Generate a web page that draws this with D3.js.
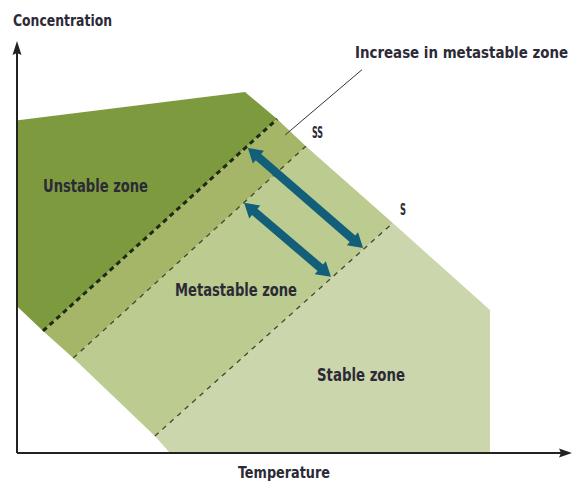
<!DOCTYPE html>
<html><head><meta charset="utf-8">
<script src="https://cdn.jsdelivr.net/npm/d3@7"></script>
<style>
html,body{margin:0;padding:0;background:#fff;}
svg{display:block;}
text{font-family:"Liberation Sans Narrow","DejaVu Sans Condensed","Open Sans",sans-serif;fill:#2b2a36;}
</style></head>
<body>
<script>
// Schematic solubility diagram, coordinates in abstract units (Temperature 0-100, Concentration 0-100)
const unstableZone   = [[0,92.2],[48.1,100],[54.9,92.5],[5.3,33.8],[0,40.4]];
const increaseZone   = [[5.3,33.8],[54.9,92.5],[61.0,85.0],[11.7,26.3]];
const metastableZone = [[11.7,26.3],[61.0,85.0],[79.4,63.7],[29.0,4.7]];
const stableZone     = [[29.0,4.7],[79.4,63.7],[100,39.6],[100,0],[32.2,0],[29.0,4.7]];
const ssOriginal     = [[5.3,33.8],[54.9,92.5]];   // thick dashed supersolubility curve
const ssNew          = [[11.7,26.3],[61.0,85.0]];  // thin dashed new supersolubility curve
const sCurve         = [[29.0,4.7],[79.4,63.7]];   // solubility curve
const arrows         = [[[48.7,84.5],[73.1,56.8]],[[47.9,69.3],[66.3,48.8]]];
const leader         = [[72.9,106.2],[56.6,88.1]];
const zoneLabels     = ["Unstable zone","Metastable zone","Stable zone"];
const curveLabels    = ["SS","S"];
const axisLabels     = ["Temperature","Concentration"];
const noteLabel      = "Increase in metastable zone";

const W=576,H=482;
const x=d3.scaleLinear().domain([0,100]).range([18,490]);
const y=d3.scaleLinear().domain([0,100]).range([453,92]);
const svg=d3.select("body").append("svg").attr("width",W).attr("height",H);
const line=d3.line().x(d=>x(d[0])).y(d=>y(d[1]));

const zones=[[stableZone,"#cbd6ad"],[metastableZone,"#bccb8f"],[increaseZone,"#a5b668"],[unstableZone,"#7e9a3e"]];
zones.forEach(([pts,c])=>svg.append("path").attr("d",line(pts)+"Z").attr("fill",c));

svg.append("path").attr("d",line(ssOriginal)).attr("stroke","#1e2a14").attr("stroke-width",3).attr("stroke-dasharray","5,4").attr("fill","none");
svg.append("path").attr("d",line(ssNew)).attr("stroke","#3d4a2a").attr("stroke-width",1.3).attr("stroke-dasharray","5,5").attr("fill","none");
svg.append("path").attr("d",line(sCurve)).attr("stroke","#3d4a2a").attr("stroke-width",1.3).attr("stroke-dasharray","5,5").attr("fill","none");

// leader line
svg.append("path").attr("d",line(leader)).attr("stroke","#333").attr("stroke-width",1).attr("fill","none");

// double-headed arrows
arrows.forEach(a=>{
  const x1=x(a[0][0]),y1=y(a[0][1]),x2=x(a[1][0]),y2=y(a[1][1]);
  const dx=x2-x1,dy=y2-y1,L=Math.hypot(dx,dy),ux=dx/L,uy=dy/L,px=-uy,py=ux;
  const hl=14,hw=8.5,sw=4.2;
  const P=(t,s)=>[x1+ux*t+px*s,y1+uy*t+py*s];
  const pts=[P(0,0),P(hl,hw),P(hl,sw),P(L-hl,sw),P(L-hl,hw),P(L,0),P(L-hl,-hw),P(L-hl,-sw),P(hl,-sw),P(hl,-hw)];
  svg.append("path").attr("d","M"+pts.map(p=>p.join(",")).join("L")+"Z").attr("fill","#135f7a");
});

// axes
const ax=svg.append("g");
ax.append("line").attr("x1",17).attr("y1",453).attr("x2",562).attr("y2",453).attr("stroke","#222").attr("stroke-width",2);
ax.append("path").attr("d","M572,453 L559,448.5 L561,453 L559,457.5Z").attr("fill","#222");
ax.append("line").attr("x1",17).attr("y1",453).attr("x2",17).attr("y2",52).attr("stroke","#222").attr("stroke-width",2);
ax.append("path").attr("d","M17,41 L12.5,55 L17,53 L21.5,55Z").attr("fill","#222");

function txt(s,tx,ty,size,len){
  const t=svg.append("text").attr("x",tx).attr("y",ty).attr("font-size",size).attr("font-weight","bold").text(s);
  if(len) t.attr("textLength",len).attr("lengthAdjust","spacingAndGlyphs");
  return t;
}
txt(axisLabels[1],13,26,16,99);
txt(axisLabels[0],238,478,16,92);
txt(noteLabel,355,58,15,213);
txt(curveLabels[0],312,138,16,11);
txt(curveLabels[1],400,215,16,6);
txt(zoneLabels[0],43,192,17,105);
txt(zoneLabels[1],175,296,17,122);
txt(zoneLabels[2],317,381,17,88);
</script>
</body></html>
